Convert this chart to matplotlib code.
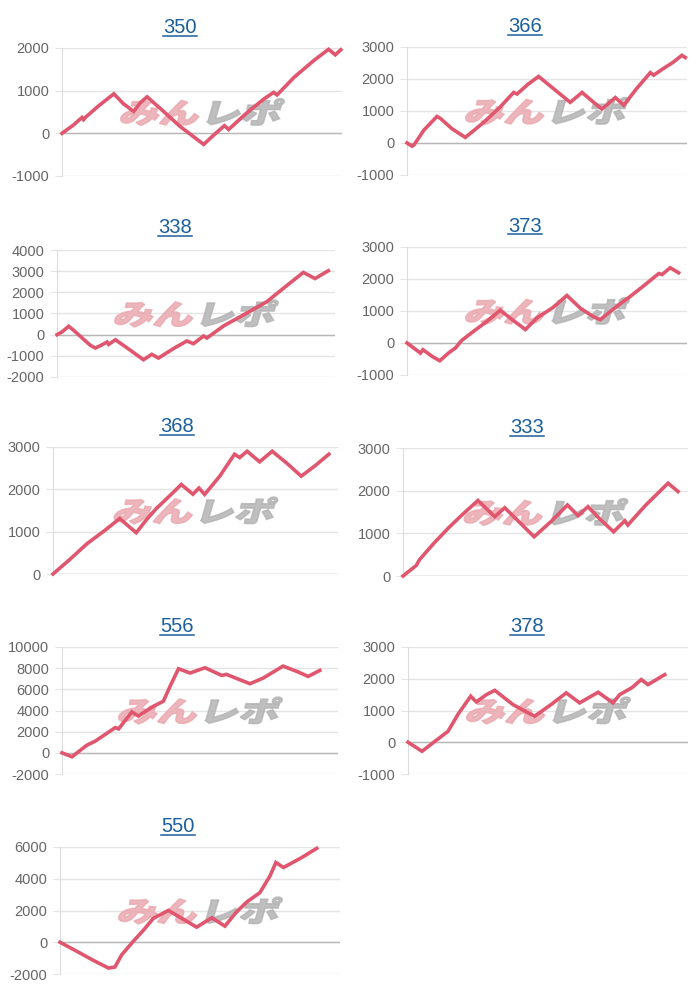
import matplotlib
matplotlib.use("Agg")
import matplotlib.pyplot as plt
from matplotlib.textpath import TextPath
from matplotlib.patches import PathPatch
from matplotlib.font_manager import FontProperties
from matplotlib.transforms import Affine2D, ScaledTranslation
from matplotlib.lines import Line2D

plt.rcParams['font.family'] = ['Liberation Sans', 'DejaVu Sans']
plt.rcParams['axes.unicode_minus'] = False

# machine numbers (chart titles)
titles = ["350", "366", "338", "373", "368", "333", "556", "378", "550"]

# x = progress through the day (0..100 of the axis width), y = coin difference
x_350 = [0, 4, 7.1, 7.7, 8.3, 13, 18.5, 22, 25.6, 28, 30.4, 36, 42, 50.6, 54.2, 58.0, 59.5, 66, 72, 75.6, 76.8, 83, 90, 95.2, 97.6, 99.6]
y_350 = [0, 190, 370, 320, 370, 640, 925, 690, 515, 720, 855, 530, 170, -260, -40, 180, 90, 480, 800, 960, 900, 1320, 1710, 1970, 1840, 1960]

x_366 = [0, 1.8, 2.5, 6, 10.7, 11.9, 16, 20.8, 24, 27.4, 33, 38.1, 39.3, 43, 47.0, 52, 58.3, 62.5, 66, 69.6, 74.4, 77.4, 82, 86.9, 88.1, 91.1, 95, 98.2, 99.4]
y_366 = [0, -100, -60, 400, 830, 770, 450, 175, 400, 645, 1100, 1580, 1530, 1820, 2080, 1720, 1270, 1580, 1320, 1060, 1420, 1180, 1700, 2200, 2120, 2300, 2520, 2740, 2670]

x_338 = [0, 1.8, 4.2, 6.0, 9, 12.0, 13.8, 15.6, 18.0, 18.6, 21.0, 26, 31.1, 34.1, 36.5, 42, 46.7, 49.1, 52.7, 53.9, 60, 68, 75.4, 82, 88.6, 92.8, 97.6]
y_338 = [0, 130, 395, 205, -150, -505, -630, -520, -350, -460, -240, -700, -1185, -930, -1105, -650, -300, -425, -65, -160, 420, 1000, 1550, 2250, 2940, 2650, 3020]

x_373 = [0, 4.8, 5.7, 9, 11.7, 15, 17.3, 19.6, 24, 28.6, 33.3, 38, 42.3, 46.4, 52, 57.1, 62, 66.7, 69.0, 75, 79.8, 85, 89.9, 91.1, 94.0, 97.0]
y_373 = [0, -315, -210, -420, -555, -300, -155, 85, 380, 680, 1025, 700, 420, 785, 1100, 1485, 1080, 815, 730, 1150, 1460, 1820, 2170, 2140, 2350, 2195]

x_368 = [0, 6, 12, 18, 23.4, 29.2, 33, 36.3, 41, 45.0, 49.1, 51.2, 53.2, 58.5, 63.7, 65.5, 68.1, 72.5, 76.9, 82, 87.1, 92, 96.8]
y_368 = [0, 350, 720, 1020, 1310, 975, 1300, 1550, 1850, 2115, 1885, 2030, 1880, 2310, 2830, 2750, 2900, 2650, 2900, 2620, 2310, 2560, 2830]

x_333 = [0, 4.7, 5.8, 11, 16, 21, 26.3, 32.2, 35.7, 41, 46.0, 52, 57.7, 61.4, 64.9, 69, 73.9, 77.8, 78.9, 85, 93.0, 96.5]
y_333 = [0, 250, 385, 780, 1130, 1450, 1770, 1390, 1600, 1250, 920, 1280, 1665, 1415, 1625, 1340, 1035, 1295, 1195, 1650, 2175, 1980]

x_556 = [0, 3.6, 9.0, 12.0, 16, 19.3, 20.5, 25.3, 27.7, 33.1, 36.7, 39, 42.2, 46.4, 51.8, 57.8, 59.6, 64, 68.1, 72.9, 80.1, 85, 89.2, 93.4]
y_556 = [0, -375, 720, 1100, 1800, 2385, 2260, 3860, 3485, 4395, 4870, 6200, 7945, 7540, 8040, 7320, 7410, 6950, 6530, 7065, 8195, 7700, 7220, 7785]

x_378 = [0, 5.0, 8.9, 14.3, 18, 22.4, 24.4, 28, 31.0, 37.5, 42.9, 45.2, 51, 56.5, 61.3, 67.9, 73.2, 75.6, 80, 83.3, 85.7, 91.7]
y_378 = [0, -285, -20, 345, 900, 1450, 1270, 1500, 1635, 1185, 925, 820, 1180, 1555, 1240, 1575, 1240, 1500, 1720, 1975, 1815, 2130]

x_550 = [0, 7.1, 12, 17.3, 19.6, 22, 26.2, 30, 33.3, 38.7, 44, 48.8, 54.2, 58.9, 63, 66.7, 71.4, 75.0, 77.1, 79.8, 86, 91.7]
y_550 = [0, -675, -1150, -1625, -1565, -800, 65, 800, 1500, 2005, 1450, 950, 1540, 1015, 1900, 2535, 3125, 4180, 5025, 4710, 5300, 5915]

xs = [x_350, x_366, x_338, x_373, x_368, x_333, x_556, x_378, x_550]
ys = [y_350, y_366, y_338, y_373, y_368, y_333, y_556, y_378, y_550]

y_ranges = [(-1000, 2000, 1000), (-1000, 3000, 1000), (-2000, 4000, 1000),
            (-1000, 3000, 1000), (0, 3000, 1000), (0, 3000, 1000),
            (-2000, 10000, 2000), (-1000, 3000, 1000), (-2000, 6000, 2000)]

# axes boxes in pixels: left, top, right, bottom
boxes = [(62, 48, 342, 176), (407, 47, 687, 175),
         (57, 250, 335, 377), (407, 247, 687, 375),
         (53, 447, 338, 574), (403, 448, 688, 576),
         (62, 647, 338, 774), (408, 647, 688, 774),
         (60, 847, 340, 974)]
title_pos = [(180, 33), (525, 32), (175, 233), (525, 232), (177, 432),
             (527, 433), (177, 632), (527, 632), (178, 832)]

W, H = 700, 1000
LINE = "#e0566e"
GRID = "#e4e4e4"
TITLE = "#1b5f9e"

fig = plt.figure(figsize=(7, 10), dpi=100)

jp = FontProperties(family="Noto Sans CJK JP", weight="black")


def watermark(ax):
    p1 = TextPath((0, 0), "みん", size=40, prop=jp)
    e1 = p1.get_extents()
    p2 = TextPath((e1.x1 + 3, 0), "レポ", size=40, prop=jp)
    e2 = p2.get_extents()
    cx = (e1.x0 + e2.x1) / 2
    cy = (min(e1.y0, e2.y0) + max(e1.y1, e2.y1)) / 2
    tr = (Affine2D().translate(-cx, -cy).scale(1.0, 0.7).skew_deg(16, 0)
          + ScaledTranslation(0.5, 0.5, ax.transAxes))
    ax.add_patch(PathPatch(p1, transform=tr, facecolor="#eaaab1", edgecolor="#eaaab1",
                           linewidth=1.2, alpha=0.85, zorder=1, clip_on=False))
    ax.add_patch(PathPatch(p2, transform=tr, facecolor="#b4b4b4", edgecolor="#b4b4b4",
                           linewidth=1.2, alpha=0.85, zorder=1, clip_on=False))


for i in range(9):
    l, t, r, b = boxes[i]
    ax = fig.add_axes([l / W, 1 - b / H, (r - l) / W, (b - t) / H])
    lo, hi, step = y_ranges[i]
    ax.set_xlim(0, 100)
    ax.set_ylim(lo, hi)
    ax.set_yticks(range(lo, hi + 1, step))
    ax.set_xticks([])
    ax.grid(axis="y", color=GRID, linewidth=1)
    ax.set_axisbelow(True)
    for s in ["top", "right", "bottom"]:
        ax.spines[s].set_visible(False)
    ax.spines["left"].set_color("#dcdcdc")
    ax.tick_params(axis="y", length=5, color=GRID, pad=4, labelsize=10.5, labelcolor="#666666")
    ax.axhline(0, color="#b8b8b8", linewidth=1, zorder=1.5)
    watermark(ax)
    ax.plot(xs[i], ys[i], color=LINE, linewidth=2.6, zorder=3, clip_on=False,
            solid_joinstyle="miter")

    tx, ty = title_pos[i]
    fig.text(tx / W, 1 - ty / H, titles[i], ha="center", va="baseline",
             fontsize=14.5, color=TITLE)

# underline the titles like links
fig.canvas.draw()
for i, txt in enumerate(fig.texts[:]):
    bb = txt.get_window_extent()
    yline = 1 - (title_pos[i][1] + 2.5) / H
    fig.add_artist(Line2D([bb.x0 / W, bb.x1 / W], [yline, yline],
                          transform=fig.transFigure, color=TITLE, linewidth=1.1))

fig.savefig("out.png", dpi=100, facecolor="white")
